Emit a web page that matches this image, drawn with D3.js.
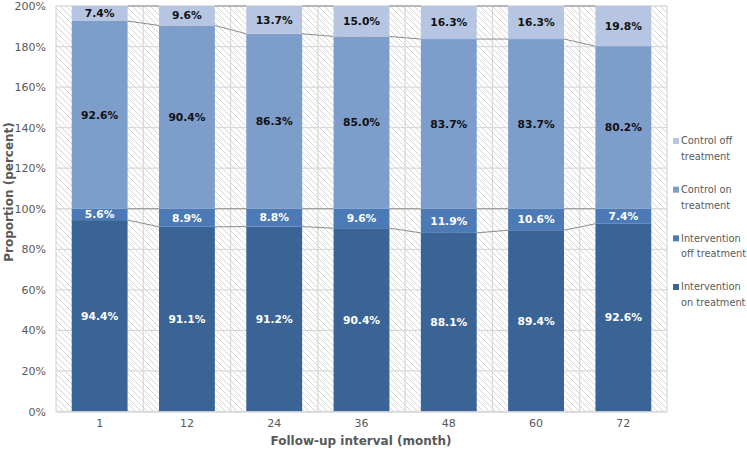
<!DOCTYPE html>
<html>
<head>
<meta charset="utf-8">
<script src="https://cdn.jsdelivr.net/npm/d3@7"></script>
<style>
  html, body { margin: 0; padding: 0; background: #fff; }
  svg { display: block; font-family: "DejaVu Sans", Verdana, sans-serif; }
</style>
</head>
<body>
<svg id="chart" width="747" height="450"></svg>
<script>
// ---- data ----
const categories = ["1", "12", "24", "36", "48", "60", "72"];
const interventionOn  = [94.4, 91.1, 91.2, 90.4, 88.1, 89.4, 92.6];
const interventionOff = [5.6, 8.9, 8.8, 9.6, 11.9, 10.6, 7.4];
const controlOn       = [92.6, 90.4, 86.3, 85.0, 83.7, 83.7, 80.2];
const controlOff      = [7.4, 9.6, 13.7, 15.0, 16.3, 16.3, 19.8];
const seriesNames = ["Intervention on treatment", "Intervention off treatment", "Control on treatment", "Control off treatment"];
const yTicks = [0, 20, 40, 60, 80, 100, 120, 140, 160, 180, 200];

const colors = ["#3b6496", "#4b7ab6", "#7d9dcb", "#b5c5e2"];
const labelColors = ["#ffffff", "#ffffff", "#111111", "#111111"];

const rows = categories.map((c, i) => ({
  cat: c,
  s0: interventionOn[i], s1: interventionOff[i], s2: controlOn[i], s3: controlOff[i]
}));
const keys = ["s0", "s1", "s2", "s3"];
const stacked = d3.stack().keys(keys)(rows);

const svg = d3.select("#chart");
const x0 = 56, x1 = 667, yTop = 6, yBot = 411.5;

const x = d3.scaleBand().domain(categories).range([x0, x1]).paddingInner(0.36).paddingOuter(0.18);
const xb = d3.scaleBand().domain(categories).range([x0, x1]).padding(0);
const y = d3.scaleLinear().domain([0, 200]).range([yBot, yTop]);

// hatch pattern
const defs = svg.append("defs");
const P = 6;
const pat = defs.append("pattern").attr("id", "hatch").attr("patternUnits", "userSpaceOnUse")
  .attr("width", P).attr("height", P);
pat.append("rect").attr("width", P).attr("height", P).attr("fill", "#ffffff");
pat.append("path").attr("d", `M-1,-1 L${P + 1},${P + 1} M-1,${P - 1} L1,${P + 1} M${P - 1},-1 L${P + 1},1`)
  .attr("stroke", "#d6d6d6").attr("stroke-width", 1);

svg.append("rect").attr("x", x0).attr("y", yTop).attr("width", x1 - x0).attr("height", yBot - yTop)
  .attr("fill", "url(#hatch)");

// gridlines
const grid = svg.append("g");
grid.selectAll("line.h").data(yTicks).join("line")
  .attr("x1", x0).attr("x2", x1).attr("y1", d => y(d)).attr("y2", d => y(d))
  .attr("stroke", "#d9d9d9").attr("stroke-width", 1.3);
const bounds = categories.map(c => xb(c)).concat([x1]);
grid.selectAll("line.v").data(bounds).join("line")
  .attr("x1", d => d).attr("x2", d => d).attr("y1", yTop).attr("y2", yBot)
  .attr("stroke", "#d9d9d9").attr("stroke-width", 1.3);

// bars
const gBars = svg.append("g");
stacked.forEach((layer, si) => {
  gBars.append("g").attr("fill", colors[si]).selectAll("rect").data(layer).join("rect")
    .attr("x", d => x(d.data.cat))
    .attr("width", x.bandwidth())
    .attr("y", d => y(d[1]))
    .attr("height", d => y(d[0]) - y(d[1]));
});

// series lines
const gLines = svg.append("g");
stacked.forEach((layer, si) => {
  for (let i = 0; i < layer.length - 1; i++) {
    const a = layer[i], b = layer[i + 1];
    gLines.append("line")
      .attr("x1", x(a.data.cat) + x.bandwidth()).attr("y1", y(a[1]))
      .attr("x2", x(b.data.cat)).attr("y2", y(b[1]))
      .attr("stroke", "#8c8c8c").attr("stroke-width", 1);
  }
});

// labels
const gLab = svg.append("g").attr("font-size", "10.7px").attr("font-weight", "bold").attr("text-anchor", "middle");
stacked.forEach((layer, si) => {
  gLab.append("g").attr("fill", labelColors[si]).selectAll("text").data(layer).join("text")
    .attr("x", d => x(d.data.cat) + x.bandwidth() / 2)
    .attr("y", d => y((d[0] + d[1]) / 2))
    .attr("dy", "0.35em")
    .text(d => (d[1] - d[0]).toFixed(1) + "%");
});

// axes
const yAxis = d3.axisLeft(y).tickValues(yTicks).tickFormat(d => d + "%").tickSize(0).tickPadding(10);
const gy = svg.append("g").attr("transform", `translate(${x0},0)`).call(yAxis);
gy.select(".domain").remove();
gy.selectAll("text").attr("font-size", "11px").attr("fill", "#595959").attr("font-family", "DejaVu Sans, sans-serif");

const xAxis = d3.axisBottom(xb).tickSize(0).tickPadding(8);
const gx = svg.append("g").attr("transform", `translate(0,${yBot})`).call(xAxis);
gx.select(".domain").attr("stroke", "#d9d9d9").attr("stroke-width", 1.3);
gx.selectAll("text").attr("font-size", "11px").attr("fill", "#595959").attr("font-family", "DejaVu Sans, sans-serif");

// axis titles
svg.append("text").attr("x", 361).attr("y", 445).attr("text-anchor", "middle")
  .attr("font-size", "12px").attr("font-weight", "bold").attr("fill", "#595959")
  .text("Follow-up interval (month)");
svg.append("text").attr("transform", `translate(13,192) rotate(-90)`).attr("text-anchor", "middle")
  .attr("font-size", "12px").attr("font-weight", "bold").attr("fill", "#595959")
  .text("Proportion (percent)");

// legend
const legendItems = [
  { lines: ["Control off", "treatment"], c: colors[3] },
  { lines: ["Control on", "treatment"], c: colors[2] },
  { lines: ["Intervention", "off treatment"], c: colors[1] },
  { lines: ["Intervention", "on treatment"], c: colors[0] }
];
const legY = d3.scalePoint().domain(legendItems.map((d, i) => i)).range([141, 287]);
const gLeg = svg.append("g");
legendItems.forEach((it, i) => {
  const g = gLeg.append("g").attr("transform", `translate(673,${legY(i)})`);
  g.append("rect").attr("x", 0).attr("y", -3).attr("width", 6).attr("height", 6).attr("fill", it.c);
  const t = g.append("text").attr("x", 8).attr("y", 0).attr("font-size", "9.8px").attr("fill", "#595959");
  it.lines.forEach((l, j) => t.append("tspan").attr("x", 8).attr("dy", j === 0 ? "0.35em" : "1.6em").text(l));
});
</script>
</body>
</html>
